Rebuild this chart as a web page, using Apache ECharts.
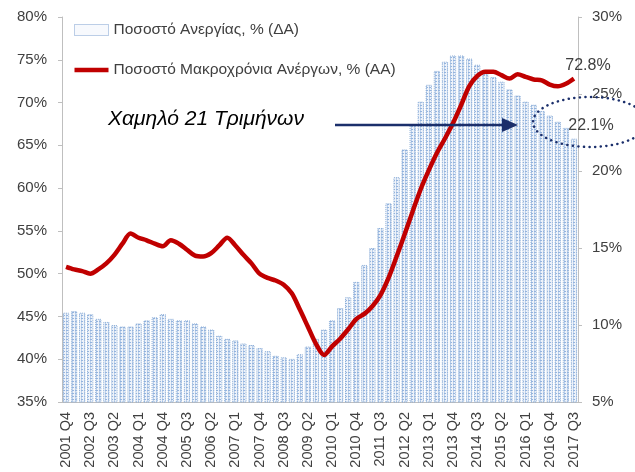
<!DOCTYPE html>
<html>
<head>
<meta charset="utf-8">
<script src="https://cdn.jsdelivr.net/npm/echarts@6/dist/echarts.min.js"></script>
<style>
  html, body { margin: 0; padding: 0; background: #fff; }
  #chart { width: 635px; height: 472px; }
</style>
</head>
<body>
<div id="chart"></div>
<script>
// Quarterly unemployment: rate (bars, right axis) and long-term share (line, left axis)

const quarters = [
  "2001 Q4",
  "2002 Q1", "2002 Q2", "2002 Q3", "2002 Q4",
  "2003 Q1", "2003 Q2", "2003 Q3", "2003 Q4",
  "2004 Q1", "2004 Q2", "2004 Q3", "2004 Q4",
  "2005 Q1", "2005 Q2", "2005 Q3", "2005 Q4",
  "2006 Q1", "2006 Q2", "2006 Q3", "2006 Q4",
  "2007 Q1", "2007 Q2", "2007 Q3", "2007 Q4",
  "2008 Q1", "2008 Q2", "2008 Q3", "2008 Q4",
  "2009 Q1", "2009 Q2", "2009 Q3", "2009 Q4",
  "2010 Q1", "2010 Q2", "2010 Q3", "2010 Q4",
  "2011 Q1", "2011 Q2", "2011 Q3", "2011 Q4",
  "2012 Q1", "2012 Q2", "2012 Q3", "2012 Q4",
  "2013 Q1", "2013 Q2", "2013 Q3", "2013 Q4",
  "2014 Q1", "2014 Q2", "2014 Q3", "2014 Q4",
  "2015 Q1", "2015 Q2", "2015 Q3", "2015 Q4",
  "2016 Q1", "2016 Q2", "2016 Q3", "2016 Q4",
  "2017 Q1", "2017 Q2", "2017 Q3"
];

// Ποσοστό Ανεργίας, % (right axis)
const unemploymentRate = [
  10.8, 10.9, 10.8, 10.7, 10.4, 10.2, 10.0, 9.9, 9.9, 10.1,
  10.3, 10.5, 10.7, 10.4, 10.3, 10.3, 10.1, 9.9, 9.7, 9.3,
  9.1, 9.0, 8.8, 8.7, 8.5, 8.3, 8.0, 7.9, 7.8, 8.1,
  8.6, 9.1, 9.7, 10.3, 11.1, 11.8, 12.8, 13.9, 15.0, 16.3,
  17.9, 19.6, 21.4, 23.0, 24.5, 25.6, 26.5, 27.1, 27.5, 27.5,
  27.3, 26.9, 26.3, 26.1, 25.8, 25.3, 24.9, 24.5, 24.3, 23.9,
  23.6, 23.2, 22.8, 22.1
];

// Ποσοστό Μακροχρόνια Ανέργων, % (left axis)
const longTermShare = [
  50.8, 50.5, 50.3, 50.0, 50.5, 51.2, 52.2, 53.5, 54.7, 54.2,
  53.9, 53.5, 53.2, 53.9, 53.5, 52.8, 52.1, 52.0, 52.4, 53.3,
  54.2, 53.3, 52.2, 51.2, 50.0, 49.5, 49.2, 48.7, 47.7, 45.8,
  43.8, 41.8, 40.5, 41.5, 42.4, 43.5, 44.7, 45.3, 46.2, 47.5,
  49.5, 52.0, 54.6, 57.3, 59.9, 62.1, 64.1, 65.8, 67.6, 69.7,
  71.9, 73.1, 73.6, 73.6, 73.2, 72.8, 73.3, 73.0, 72.7, 72.6,
  72.1, 71.9, 72.2, 72.8
];

const seriesNames = ["Ποσοστό Ανεργίας, % (ΔΑ)", "Ποσοστό Μακροχρόνια Ανέργων, % (ΑΑ)"];
const leftTicks = { min: 35, max: 80, step: 5 };
const rightTicks = { min: 5, max: 30, step: 5 };

const FONT = "Liberation Sans";
const TEXT = "#404040";
const AXIS = "#bfbfbf";
const NAVY = "#1b2f6b";
const RED = "#c00000";

// dotted fill tile, like the hatched bars of the original
function dotTile() {
  const c = document.createElement("canvas");
  c.width = 3; c.height = 3;
  const ctx = c.getContext("2d");
  ctx.fillStyle = "#eef3fa";
  ctx.fillRect(0, 0, 3, 3);
  ctx.fillStyle = "#94b4de";
  ctx.fillRect(0, 0, 2, 1);
  ctx.fillStyle = "#bcd0ea";
  ctx.fillRect(0, 1, 1, 2);
  return c;
}

const last = quarters.length - 1;
const endLabel = {
  show: true, position: "top", distance: 5,
  formatter: p => p.value.toFixed(1) + "%", color: TEXT, fontSize: 16
};

const chart = echarts.init(document.getElementById("chart"), null, { renderer: "canvas" });

// dotted ellipse around the last bar label
const ell = [];
for (let k = 0; k <= 72; k++) {
  const t = (k / 72) * Math.PI * 2;
  ell.push([590 + 57 * Math.cos(t), 122 + 25 * Math.sin(t)]);
}

chart.setOption({
  backgroundColor: "#fff",
  animation: false,
  textStyle: { fontFamily: FONT },
  grid: { left: 62, right: 57, top: 17, bottom: 70 },
  legend: {
    orient: "vertical",
    left: 74,
    top: 22,
    padding: 0,
    itemGap: 24,
    itemWidth: 34,
    itemHeight: 11,
    textStyle: { color: TEXT, fontSize: 15.5, fontFamily: FONT },
    data: [
      { name: seriesNames[0], icon: "rect",
        itemStyle: { color: "#f7f9fd", borderColor: "#7da1d0", borderWidth: 1, borderType: "dotted" } },
      { name: seriesNames[1], icon: "path://M0,0 L34,0 L34,4.5 L0,4.5 Z", itemStyle: { color: RED } }
    ]
  },
  xAxis: {
    type: "category",
    data: quarters,
    boundaryGap: true,
    axisLine: { lineStyle: { color: AXIS } },
    axisTick: { interval: 0, length: 5, lineStyle: { color: AXIS } },
    axisLabel: { interval: 2, rotate: 90, color: TEXT, fontSize: 14.5, margin: 10 }
  },
  yAxis: [
    {
      type: "value",
      min: leftTicks.min, max: leftTicks.max, interval: leftTicks.step,
      axisLine: { show: true, lineStyle: { color: AXIS } },
      axisTick: { show: true, length: 4, lineStyle: { color: AXIS } },
      splitLine: { show: false },
      axisLabel: { formatter: "{value}%", color: TEXT, fontSize: 15, margin: 15 }
    },
    {
      type: "value",
      position: "right",
      min: rightTicks.min, max: rightTicks.max, interval: rightTicks.step,
      axisLine: { show: true, lineStyle: { color: AXIS } },
      axisTick: { show: true, length: 4, lineStyle: { color: AXIS } },
      splitLine: { show: false },
      axisLabel: { formatter: "{value}%", color: TEXT, fontSize: 15, margin: 14 }
    }
  ],
  series: [
    {
      name: seriesNames[0],
      type: "bar",
      yAxisIndex: 1,
      barCategoryGap: "22%",
      itemStyle: {
        color: { image: dotTile(), repeat: "repeat" },
        borderColor: "#86aad6",
        borderWidth: 1,
        borderType: "dotted"
      },
      data: unemploymentRate.map((v, i) => i === last
        ? { value: v, label: Object.assign({}, endLabel, { offset: [17, 0] }) }
        : v)
    },
    {
      name: seriesNames[1],
      type: "line",
      yAxisIndex: 0,
      smooth: 0.3,
      symbol: "circle",
      symbolSize: 0,
      showSymbol: true,
      showAllSymbol: true,
      lineStyle: { color: RED, width: 4.5 },
      itemStyle: { color: RED },
      data: longTermShare.map((v, i) => i === last
        ? { value: v, label: Object.assign({}, endLabel, { offset: [14, 0] }) }
        : v)
    }
  ],
  graphic: [
    {
      type: "text",
      left: 108, top: 109, z: 100,
      style: { text: "Χαμηλό 21 Τριμήνων", font: "italic 21px " + FONT, fill: "#000" }
    },
    {
      type: "line", z: 100,
      shape: { x1: 335, y1: 125, x2: 505, y2: 125 },
      style: { stroke: NAVY, lineWidth: 2.5 }
    },
    {
      type: "polygon", z: 100,
      shape: { points: [[502, 118], [518, 125], [502, 132]] },
      style: { fill: NAVY }
    },
    {
      type: "polyline", z: 100,
      shape: { points: ell },
      style: { stroke: NAVY, lineWidth: 2.5, lineDash: [0.1, 5.5], lineCap: "round", fill: null }
    }
  ]
});
</script>
</body>
</html>
